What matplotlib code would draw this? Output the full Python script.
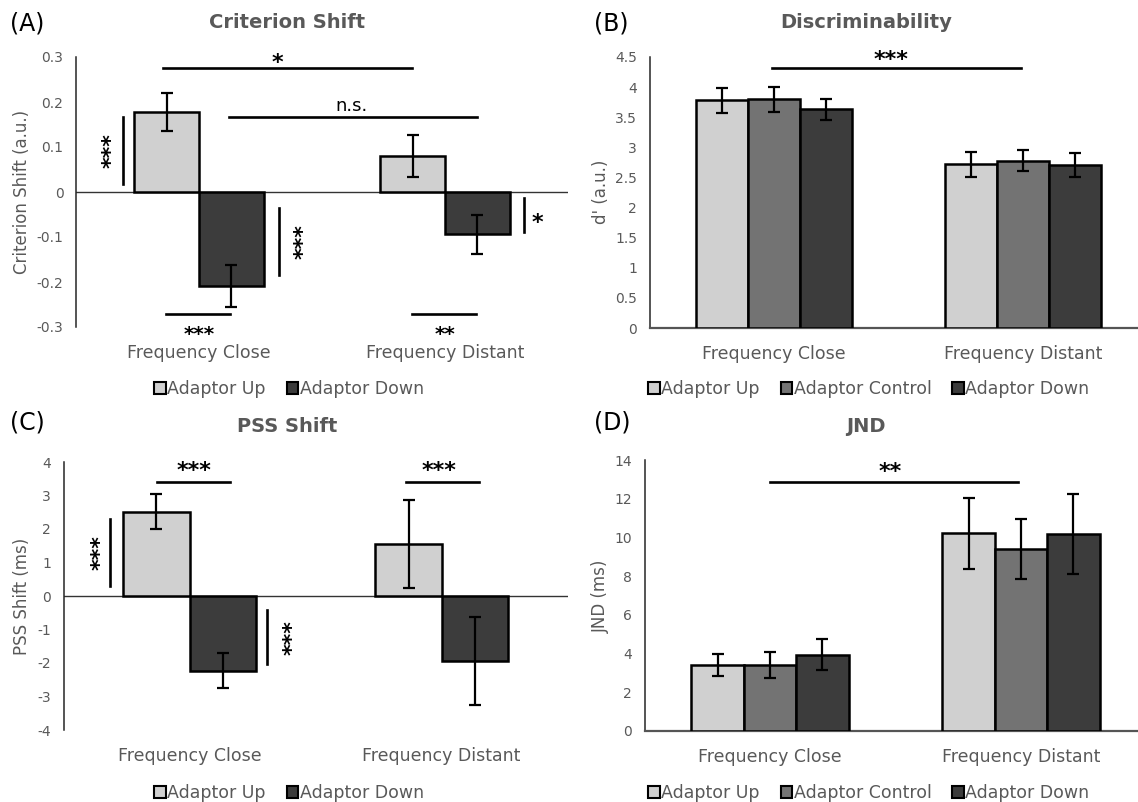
import matplotlib
matplotlib.use("Agg")
import matplotlib.pyplot as plt
from matplotlib.patches import Patch
import numpy as np

plt.rcParams['font.family'] = ['DejaVu Sans']

# ---------------- data ----------------
categories = ["Frequency Close", "Frequency Distant"]

crit_up = [0.178, 0.080]
crit_up_err = [0.043, 0.047]
crit_down = [-0.209, -0.094]
crit_down_err = [0.047, 0.043]

dprime_up = [3.78, 2.72]
dprime_up_err = [0.21, 0.21]
dprime_ctrl = [3.80, 2.78]
dprime_ctrl_err = [0.21, 0.18]
dprime_down = [3.63, 2.70]
dprime_down_err = [0.18, 0.20]

pss_up = [2.51, 1.55]
pss_up_err = [0.52, 1.31]
pss_down = [-2.23, -1.94]
pss_down_err = [0.52, 1.31]

jnd_up = [3.41, 10.21]
jnd_up_err = [0.59, 1.85]
jnd_ctrl = [3.41, 9.42]
jnd_ctrl_err = [0.65, 1.55]
jnd_down = [3.95, 10.17]
jnd_down_err = [0.78, 2.07]

crit_ticks = [-0.3, -0.2, -0.1, 0, 0.1, 0.2, 0.3]
crit_ticklabels = ["-0.3", "-0.2", "-0.1", "0", "0.1", "0.2", "0.3"]
dprime_ticks = [0, 0.5, 1, 1.5, 2, 2.5, 3, 3.5, 4, 4.5]
dprime_ticklabels = ["0", "0.5", "1", "1.5", "2", "2.5", "3", "3.5", "4", "4.5"]
pss_ticks = [-4, -3, -2, -1, 0, 1, 2, 3, 4]
pss_ticklabels = ["-4", "-3", "-2", "-1", "0", "1", "2", "3", "4"]
jnd_ticks = [0, 2, 4, 6, 8, 10, 12, 14]
jnd_ticklabels = ["0", "2", "4", "6", "8", "10", "12", "14"]

series_names3 = ["Adaptor Up", "Adaptor Control", "Adaptor Down"]
series_names2 = ["Adaptor Up", "Adaptor Down"]

# ---------------- style ----------------
W, H = 1138, 802
C_UP, C_CTRL, C_DOWN = "#d0d0d0", "#737373", "#3c3c3c"
GRAY = "#595959"
EDGE_LW = 1.8
ERR_KW = dict(ecolor="black", elinewidth=1.6, capsize=4, capthick=1.6)
STAR_SIZE = 16

fig = plt.figure(figsize=(W / 100, H / 100), dpi=100)


def px_axes(l, t, r, b):
    return fig.add_axes([l / W, 1 - b / H, (r - l) / W, (b - t) / H])


def fx(x):
    return x / W


def fy(y):
    return 1 - y / H


def style_axes(ax, ticks, ticklabels, ylim, zero_line):
    ax.set_ylim(*ylim)
    ax.set_xlim(-0.5, 1.5)
    ax.set_yticks(ticks)
    ax.set_yticklabels(ticklabels)
    ax.set_xticks([0, 1])
    ax.set_xticklabels(categories)
    ax.tick_params(axis='y', length=0, pad=9, labelsize=10, labelcolor=GRAY)
    ax.tick_params(axis='x', length=0, pad=12.5, labelsize=12.5, labelcolor=GRAY)
    for s in ("top", "right"):
        ax.spines[s].set_visible(False)
    ax.spines["left"].set_color("#262626")
    ax.spines["left"].set_linewidth(1.1)
    if zero_line:
        ax.spines["bottom"].set_visible(False)
        ax.axhline(0, color="#333333", lw=1.0, zorder=1)
    else:
        ax.spines["bottom"].set_color("#555555")
        ax.spines["bottom"].set_linewidth(1.6)
    ax.patch.set_visible(False)


def hline(ax, x0, x1, y):
    ax.plot([x0, x1], [y, y], color="black", lw=1.9, clip_on=False, zorder=5)


def vline(ax, x, y0, y1):
    ax.plot([x, x], [y0, y1], color="black", lw=1.9, clip_on=False, zorder=5)


def stars(ax, x, y, s, rot=0, size=STAR_SIZE):
    # (x, y) is the visual centre of the asterisks
    if rot == 0:
        off = (0, -0.6 * size)
    else:
        off = (0.6 * size, 0)
    ax.annotate(s, (x, y), xytext=off, textcoords="offset points", ha="center",
                va="baseline", fontsize=size, fontweight="bold", rotation=rot,
                rotation_mode="anchor", annotation_clip=False, color="black")


x = np.arange(len(categories))

# ---------------- Panel A ----------------
axA = px_axes(76, 57, 568, 327)
style_axes(axA, crit_ticks, crit_ticklabels, (-0.3, 0.3), True)
bw2 = 0.263
axA.bar(x - bw2 / 2, crit_up, bw2, color=C_UP, edgecolor="black", lw=EDGE_LW,
        yerr=crit_up_err, error_kw=ERR_KW, zorder=3)
axA.bar(x + bw2 / 2, crit_down, bw2, color=C_DOWN, edgecolor="black", lw=EDGE_LW,
        yerr=crit_down_err, error_kw=ERR_KW, zorder=3)
hline(axA, -0.145, 0.865, 0.276)
stars(axA, 0.32, 0.304, "*")
hline(axA, 0.12, 1.13, 0.167)
axA.text(0.62, 0.191, "n.s.", ha="center", va="center", fontsize=13, color="black")
vline(axA, -0.308, 0.018, 0.167)
stars(axA, -0.387, 0.093, "***", rot=90)
vline(axA, 0.324, -0.036, -0.184)
stars(axA, 0.395, -0.111, "***", rot=90)
vline(axA, 1.32, -0.013, -0.089)
stars(axA, 1.375, -0.053, "*")
hline(axA, -0.135, 0.124, -0.271)
stars(axA, 0.0, -0.303, "***", size=14.5)
hline(axA, 0.865, 1.124, -0.271)
stars(axA, 1.0, -0.303, "**", size=14.5)

fig.text(fx(22), fy(192), "Criterion Shift (a.u.)", rotation=90, ha="center", va="center",
         fontsize=12, color=GRAY)
fig.text(fx(287), fy(23), "Criterion Shift", ha="center", va="center", fontsize=14,
         fontweight="bold", color=GRAY)
fig.text(fx(10), fy(23), "(A)", ha="left", va="center", fontsize=17, color="black")

# ---------------- Panel B ----------------
axB = px_axes(649.5, 57, 1147.5, 328)
style_axes(axB, dprime_ticks, dprime_ticklabels, (0, 4.5), False)
bw3 = 0.209
for off, vals, errs, col in [(-bw3, dprime_up, dprime_up_err, C_UP),
                             (0, dprime_ctrl, dprime_ctrl_err, C_CTRL),
                             (bw3, dprime_down, dprime_down_err, C_DOWN)]:
    axB.bar(x + off, vals, bw3, color=col, edgecolor="black", lw=EDGE_LW,
            yerr=errs, error_kw=ERR_KW, zorder=3)
hline(axB, -0.01, 0.99, 4.32)
stars(axB, 0.47, 4.58, "***")
fig.text(fx(601), fy(192), "d' (a.u.)", rotation=90, ha="center", va="center",
         fontsize=12, color=GRAY)
fig.text(fx(866), fy(23), "Discriminability", ha="center", va="center", fontsize=14,
         fontweight="bold", color=GRAY)
fig.text(fx(594), fy(23), "(B)", ha="left", va="center", fontsize=17, color="black")

# ---------------- Panel C ----------------
axC = px_axes(63.6, 462, 567.7, 730)
style_axes(axC, pss_ticks, pss_ticklabels, (-4, 4), True)
axC.bar(x - bw2 / 2, pss_up, bw2, color=C_UP, edgecolor="black", lw=EDGE_LW,
        yerr=pss_up_err, error_kw=ERR_KW, zorder=3)
axC.bar(x + bw2 / 2, pss_down, bw2, color=C_DOWN, edgecolor="black", lw=EDGE_LW,
        yerr=pss_down_err, error_kw=ERR_KW, zorder=3)
hline(axC, -0.131, 0.16, 3.4)
stars(axC, 0.017, 3.94, "***")
hline(axC, 0.858, 1.148, 3.4)
stars(axC, 0.99, 3.94, "***")
vline(axC, -0.315, 0.3, 2.3)
stars(axC, -0.383, 1.29, "***", rot=90)
vline(axC, 0.308, -0.42, -2.03)
stars(axC, 0.38, -1.25, "***", rot=90)
fig.text(fx(22), fy(596), "PSS Shift (ms)", rotation=90, ha="center", va="center",
         fontsize=12, color=GRAY)
fig.text(fx(287), fy(427), "PSS Shift", ha="center", va="center", fontsize=14,
         fontweight="bold", color=GRAY)
fig.text(fx(10), fy(423), "(C)", ha="left", va="center", fontsize=17, color="black")

# ---------------- Panel D ----------------
axD = px_axes(644.5, 460, 1146.5, 731)
style_axes(axD, jnd_ticks, jnd_ticklabels, (0, 14), False)
for off, vals, errs, col in [(-bw3, jnd_up, jnd_up_err, C_UP),
                             (0, jnd_ctrl, jnd_ctrl_err, C_CTRL),
                             (bw3, jnd_down, jnd_down_err, C_DOWN)]:
    axD.bar(x + off, vals, bw3, color=col, edgecolor="black", lw=EDGE_LW,
            yerr=errs, error_kw=ERR_KW, zorder=3)
hline(axD, 0.0, 0.99, 12.88)
stars(axD, 0.48, 13.74, "**")
fig.text(fx(601), fy(596), "JND (ms)", rotation=90, ha="center", va="center",
         fontsize=12, color=GRAY)
fig.text(fx(866), fy(427), "JND", ha="center", va="center", fontsize=14,
         fontweight="bold", color=GRAY)
fig.text(fx(594), fy(423), "(D)", ha="left", va="center", fontsize=17, color="black")

# ---------------- legends ----------------
cols2 = [C_UP, C_DOWN]
cols3 = [C_UP, C_CTRL, C_DOWN]


def add_legend(names, cols, xc, yc):
    handles = [Patch(facecolor=c, edgecolor="black", lw=1.5) for c in cols]
    leg = fig.legend(handles, names, loc="center", bbox_to_anchor=(fx(xc), fy(yc)),
                     ncol=len(names), frameon=False, fontsize=12.5, handlelength=0.65,
                     handleheight=0.65, handletextpad=0.1, columnspacing=1.2,
                     borderaxespad=0)
    for t in leg.get_texts():
        t.set_color(GRAY)


add_legend(series_names2, cols2, 289, 389)
add_legend(series_names3, cols3, 869, 389)
add_legend(series_names2, cols2, 289, 793)
add_legend(series_names3, cols3, 869, 793)

fig.savefig("out.png", dpi=100)
